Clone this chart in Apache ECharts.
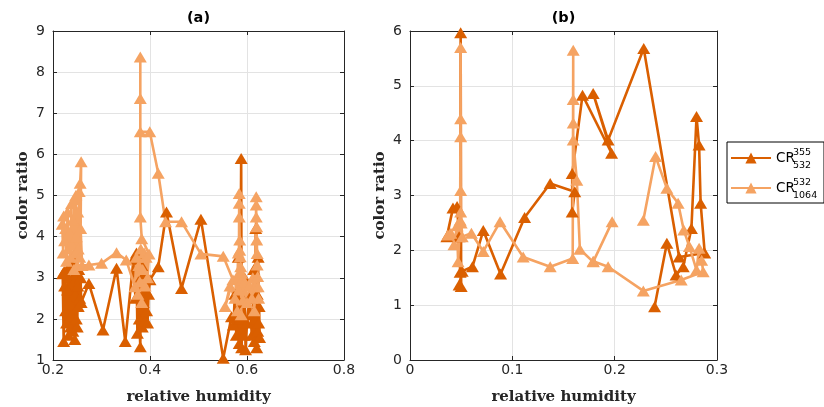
<!DOCTYPE html>
<html>
<head>
<meta charset="utf-8">
<script src="https://cdn.jsdelivr.net/npm/echarts@6/dist/echarts.min.js"></script>
<style>
  html, body { margin: 0; padding: 0; background: #fff; overflow: hidden; }
  #chart { width: 824px; height: 407px; display: block; }
</style>
</head>
<body>
<div id="chart"></div>
<script>
// Panel (a): colour ratios vs relative humidity, [RH, CR] pairs in measurement order
const a355 = [
  [0.220,3.10],[0.222,1.45],[0.224,2.80],[0.226,2.20],[0.223,3.15],[0.228,1.90],[0.230,2.70],[0.232,1.60],
  [0.229,3.20],[0.234,2.40],[0.236,1.80],[0.233,3.00],[0.238,2.10],[0.240,3.30],[0.241,1.70],[0.243,2.90],
  [0.245,1.50],[0.246,2.60],[0.244,3.40],[0.248,2.00],[0.249,3.10],[0.250,1.80],[0.251,2.80],[0.247,3.60],
  [0.252,2.30],[0.253,3.20],[0.255,2.50],[0.257,3.00],[0.258,2.40],[0.274,2.86],[0.303,1.73],[0.331,3.23],
  [0.349,1.45],[0.366,3.45],[0.370,2.50],[0.372,3.60],[0.374,1.65],[0.376,2.90],[0.378,2.00],[0.380,1.32],
  [0.381,2.60],[0.383,3.30],[0.384,1.80],[0.386,2.40],[0.388,3.10],[0.389,1.95],[0.391,2.70],[0.393,2.20],
  [0.395,1.90],[0.397,2.60],[0.400,2.95],[0.417,3.27],[0.434,4.60],[0.465,2.74],[0.505,4.42],[0.551,1.04],
  [0.568,2.05],[0.572,1.85],[0.575,2.60],[0.578,1.60],[0.580,2.20],[0.582,3.50],[0.584,1.40],[0.586,2.00],
  [0.588,5.90],[0.589,1.30],[0.591,2.40],[0.593,1.60],[0.595,3.00],[0.597,1.25],[0.600,1.90],[0.605,2.50],
  [0.610,1.60],[0.612,2.10],[0.614,3.20],[0.615,1.45],[0.617,2.00],[0.618,4.20],[0.620,1.30],[0.621,2.60],
  [0.622,1.70],[0.623,3.50],[0.624,1.90],[0.625,2.30],[0.626,1.55]
];
const a532 = [
  [0.219,4.30],[0.221,3.60],[0.222,4.50],[0.224,3.90],[0.226,4.20],[0.228,3.40],[0.230,4.60],[0.232,3.70],
  [0.234,4.10],[0.236,3.50],[0.238,4.80],[0.239,3.80],[0.241,4.40],[0.243,3.20],[0.244,4.90],[0.246,3.60],
  [0.247,5.00],[0.248,4.00],[0.250,3.30],[0.251,4.60],[0.252,3.70],[0.254,5.10],[0.255,3.50],[0.256,5.30],
  [0.258,5.82],[0.257,4.20],[0.260,3.30],[0.274,3.31],[0.300,3.35],[0.331,3.61],[0.351,3.43],[0.369,2.78],
  [0.372,3.50],[0.375,2.60],[0.377,3.30],[0.379,2.90],[0.381,3.70],[0.383,2.40],[0.385,3.20],[0.388,3.60],
  [0.390,2.80],[0.392,3.50],[0.395,3.00],[0.398,3.58],[0.383,3.95],[0.380,4.48],[0.380,8.37],[0.380,7.36],
  [0.380,6.55],[0.3995,6.55],[0.417,5.54],[0.432,4.36],[0.465,4.36],[0.505,3.58],[0.551,3.52],[0.571,2.95],
  [0.555,2.30],[0.565,2.80],[0.575,2.50],[0.578,3.00],[0.580,2.20],[0.582,3.60],[0.583,2.70],[0.584,5.05],
  [0.584,4.81],[0.584,4.48],[0.585,3.92],[0.585,3.67],[0.586,3.51],[0.587,3.27],[0.588,2.10],[0.589,3.11],
  [0.590,2.95],[0.592,2.46],[0.595,2.90],[0.600,2.40],[0.605,2.80],[0.610,2.50],[0.612,3.00],[0.615,2.20],
  [0.617,2.78],[0.619,4.97],[0.619,4.77],[0.619,4.48],[0.620,4.24],[0.620,3.92],[0.621,3.59],[0.621,3.31],
  [0.622,3.03],[0.623,2.78],[0.624,2.50]
];

// Panel (b)
const b355 = [
  [0.036,2.25],[0.042,2.77],[0.046,2.80],[0.048,2.25],[0.049,1.60],[0.0495,5.97],[0.050,1.34],[0.048,1.37],
  [0.051,1.62],[0.061,1.70],[0.0716,2.36],[0.0885,1.57],[0.112,2.60],[0.137,3.22],[0.161,3.07],[0.1585,2.70],
  [0.1585,3.40],[0.1686,4.83],[0.197,3.77],[0.179,4.86],[0.1936,4.01],[0.2284,5.68],[0.263,1.88],[0.288,1.95],
  [0.284,2.86],[0.2825,3.92],[0.280,4.44],[0.275,2.40],[0.267,1.70],[0.260,1.55],[0.251,2.13],[0.239,0.97]
];
const b532First = [
  [0.037,2.28],[0.040,2.31],[0.043,2.10],[0.046,2.45],[0.047,1.79],[0.049,2.55],[0.0495,5.70],[0.0495,4.40],
  [0.0495,4.07],[0.0495,3.09],[0.0495,2.70],[0.050,2.50],[0.051,2.25],[0.060,2.31],[0.0716,1.98],[0.088,2.52],
  [0.1106,1.88],[0.137,1.70],[0.159,1.85],[0.1595,5.65],[0.1595,4.75],[0.1595,4.32],[0.1595,4.01],[0.163,3.28],
  [0.166,2.02],[0.179,1.79],[0.1975,2.52]
];
const b532Second = [
  [0.228,2.55],[0.240,3.71],[0.251,3.13],[0.262,2.86],[0.2675,2.37],[0.273,2.07],[0.280,1.64],[0.2825,2.04],
  [0.285,1.82],[0.2865,1.61],[0.265,1.46],[0.228,1.26],[0.1936,1.70],[0.179,1.80]
];

const panelTitles = ['(a)', '(b)'];
const xLabel = 'relative humidity';
const yLabel = 'color ratio';
const seriesNames = ['CR355_532', 'CR532_1064'];
// super- and subscripts of the two legend entries
const legendScripts = [['355', '532'], ['532', '1064']];

const DARK = '#DA5F00';
const LIGHT = '#F5A362';
const AX = '#262626';
const GRIDC = '#e3e3e3';
const TICK_FONT = 'DejaVu Sans';
const NAME_FONT = 'DejaVu Serif';

// fixed plot boxes; outer-bounds shrinking disabled so the boxes stay where they are placed
const grids = [
  { left: 53, top: 31, width: 291, height: 329, outerBoundsMode: 'none', containLabel: false },
  { left: 410, top: 31, width: 307, height: 329, outerBoundsMode: 'none', containLabel: false }
];

function mainX(gi, min, max, interval) {
  return {
    type: 'value', gridIndex: gi, min, max, interval, position: 'bottom',
    name: xLabel, nameLocation: 'middle', nameGap: 30,
    nameTextStyle: { fontFamily: NAME_FONT, fontWeight: 'bold', fontSize: 15, color: AX },
    axisLine: { show: true, onZero: false, lineStyle: { color: AX, width: 1 } },
    axisTick: { show: true, inside: true, length: 4, lineStyle: { color: AX } },
    axisLabel: { fontFamily: TICK_FONT, fontSize: 14, color: AX, margin: 3 },
    splitLine: { show: true, lineStyle: { color: GRIDC, width: 1 } }
  };
}
function topX(gi, min, max, interval) {
  return {
    type: 'value', gridIndex: gi, min, max, interval, position: 'top',
    axisLine: { show: true, onZero: false, lineStyle: { color: AX, width: 1 } },
    axisTick: { show: true, inside: true, length: 4, lineStyle: { color: AX } },
    axisLabel: { show: false }, splitLine: { show: false }
  };
}
function mainY(gi, min, max, interval) {
  return {
    type: 'value', gridIndex: gi, min, max, interval, position: 'left',
    name: yLabel, nameLocation: 'middle', nameGap: 22,
    nameTextStyle: { fontFamily: NAME_FONT, fontWeight: 'bold', fontSize: 15, color: AX },
    axisLine: { show: true, onZero: false, lineStyle: { color: AX, width: 1 } },
    axisTick: { show: true, inside: true, length: 4, lineStyle: { color: AX } },
    axisLabel: { fontFamily: TICK_FONT, fontSize: 14, color: AX, margin: 8 },
    splitLine: { show: true, lineStyle: { color: GRIDC, width: 1 } }
  };
}
function rightY(gi, min, max, interval) {
  return {
    type: 'value', gridIndex: gi, min, max, interval, position: 'right',
    axisLine: { show: true, onZero: false, lineStyle: { color: AX, width: 1 } },
    axisTick: { show: true, inside: true, length: 4, lineStyle: { color: AX } },
    axisLabel: { show: false }, splitLine: { show: false }
  };
}

function lineSeries(name, data, color, xi, yi) {
  return {
    type: 'line', name, data, xAxisIndex: xi, yAxisIndex: yi,
    symbol: 'triangle', symbolSize: [13, 11], showAllSymbol: true,
    lineStyle: { color, width: 2.6 },
    itemStyle: { color, borderWidth: 0 },
    emphasis: { disabled: true },
    animation: false
  };
}

function scriptText(str, x, y) {
  return { type: 'text', x, y, z: 200,
    style: { text: str, fontFamily: TICK_FONT, fontSize: 9.5, fill: '#000', verticalAlign: 'middle' } };
}

const chart = echarts.init(document.getElementById('chart'), null, { renderer: 'canvas' });
chart.setOption({
  backgroundColor: '#ffffff',
  animation: false,
  title: [
    { text: panelTitles[0], left: 198.5, top: 11, textAlign: 'center', padding: 0,
      textStyle: { fontFamily: TICK_FONT, fontWeight: 'bold', fontSize: 14.5, color: '#000' } },
    { text: panelTitles[1], left: 563.5, top: 11, textAlign: 'center', padding: 0,
      textStyle: { fontFamily: TICK_FONT, fontWeight: 'bold', fontSize: 14.5, color: '#000' } }
  ],
  grid: grids,
  xAxis: [
    mainX(0, 0.2, 0.8, 0.2), topX(0, 0.2, 0.8, 0.2),
    mainX(1, 0, 0.3, 0.1), topX(1, 0, 0.3, 0.1)
  ],
  yAxis: [
    mainY(0, 1, 9, 1), rightY(0, 1, 9, 1),
    mainY(1, 0, 6, 1), rightY(1, 0, 6, 1)
  ],
  legend: {
    orient: 'vertical', left: 727, top: 142,
    data: seriesNames,
    borderColor: '#000', borderWidth: 1,
    padding: [9, 3, 8, 3], itemGap: 16, itemWidth: 40, itemHeight: 14,
    selectedMode: false,
    formatter: () => '{c|CR}',
    textStyle: {
      rich: { c: { fontFamily: TICK_FONT, fontSize: 13.5, color: '#000', width: 45, height: 14, lineHeight: 14 } }
    }
  },
  graphic: [
    scriptText(legendScripts[0][0], 793, 152.5),
    scriptText(legendScripts[0][1], 793, 166),
    scriptText(legendScripts[1][0], 793, 182.5),
    scriptText(legendScripts[1][1], 793, 196)
  ],
  series: [
    lineSeries(seriesNames[0], a355, DARK, 0, 0),
    lineSeries(seriesNames[1], a532, LIGHT, 0, 0),
    lineSeries(seriesNames[0], b355, DARK, 2, 2),
    lineSeries(seriesNames[1], b532First, LIGHT, 2, 2),
    lineSeries(seriesNames[1], b532Second, LIGHT, 2, 2)
  ]
});
</script>
</body>
</html>
